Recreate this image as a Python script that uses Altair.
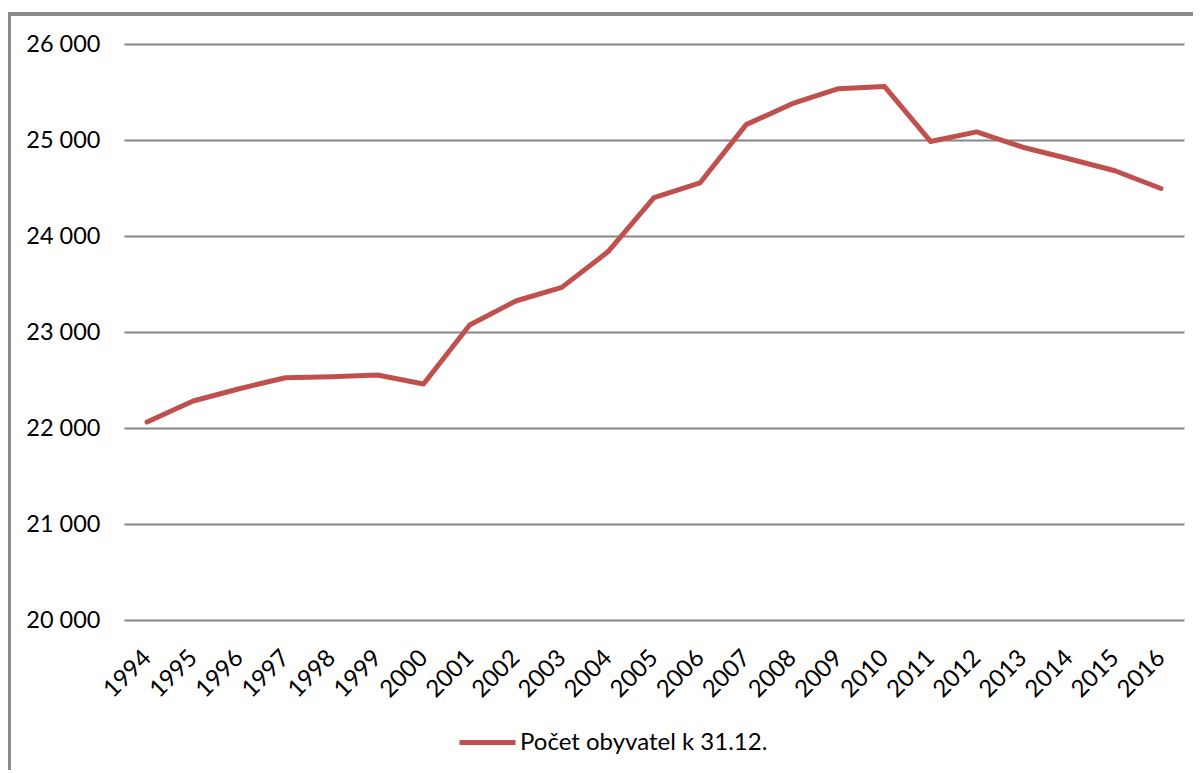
import altair as alt
import pandas as pd

years = [str(y) for y in range(1994, 2017)]
population = [22062, 22281, 22409, 22524, 22535, 22552, 22458, 23073, 23323,
              23465, 23835, 24400, 24554, 25160, 25378, 25535, 25558, 24985,
              25085, 24925, 24805, 24680, 24495]
series_name = "Počet obyvatel k 31.12."
y_ticks = [20000, 21000, 22000, 23000, 24000, 25000, 26000]

df = pd.DataFrame({"rok": years, "pocet": population, "serie": [series_name] * len(years)})

FONT = "Lato"
GRID = "#868686"
RED = "#C0504D"

line = alt.Chart(df).mark_line(strokeWidth=5, strokeCap="round", strokeJoin="round").encode(
    x=alt.X("rok:O", sort=years,
            scale=alt.Scale(type="point", padding=0.5),
            axis=alt.Axis(title=None, labelAngle=-45, labelAlign="right", labelBaseline="middle",
                          labelPadding=34, domain=False, ticks=False, grid=False,
                          labelFont=FONT, labelFontSize=24, labelColor="#000000")),
    y=alt.Y("pocet:Q", scale=alt.Scale(domain=[20000, 26000], nice=False, zero=False),
            axis=alt.Axis(title=None, values=y_ticks, domain=False, ticks=False,
                          labelExpr="replace(format(datum.value, ',d'), ',', ' ')",
                          grid=True, gridColor=GRID, gridWidth=1.8, labelPadding=24,
                          labelFont=FONT, labelFontSize=23.5, labelColor="#000000")),
    color=alt.Color("serie:N", scale=alt.Scale(range=[RED]),
                    legend=alt.Legend(title=None, orient="none", legendX=333, legendY=668,
                                      symbolType="stroke", symbolSize=3136, symbolStrokeWidth=5,
                                      labelFont=FONT, labelFontSize=24, labelColor="#000000",
                                      labelLimit=0, labelOffset=2, padding=0)),
)

frame_left = alt.Chart(df).mark_rule(color="#8a8a8a", strokeWidth=2.5).encode(
    x=alt.value(-115), y=alt.value(-30), y2=alt.value(900))
frame_top = alt.Chart(df).mark_rule(color="#8a8a8a", strokeWidth=2.5).encode(
    x=alt.value(-116), x2=alt.value(1200), y=alt.value(-30))

chart = alt.layer(frame_left, frame_top, line).properties(
    width=1060, height=576,
    autosize=alt.AutoSizeParams(type="none"),
    padding={"left": 116, "top": 36, "right": 9, "bottom": 150},
).configure_view(stroke=None)

chart.save("out.html", embed_options={"renderer": "svg", "actions": False})
